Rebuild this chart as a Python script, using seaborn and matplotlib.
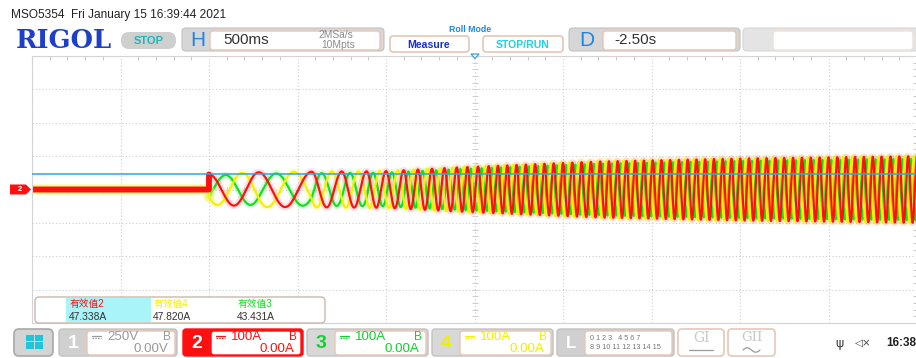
import numpy as np
import pandas as pd
import matplotlib
matplotlib.use("Agg")
import matplotlib.pyplot as plt
from matplotlib.patches import FancyBboxPatch, Rectangle, Polygon
import seaborn as sns

# ---------------- acquisition data ----------------
# horizontal 500 ms/div over 10 div, vertical 100 A/div over 8 div
time_span = [0.0, 5.0]
current_span = [-400.0, 400.0]
trigger_level = 46.0          # A
trigger_time = 2.5            # s (screen centre)

# CH2 positive-peak times (s) and the cycle number of each peak
peak_times = [1.00, 1.28, 1.58, 1.75, 1.89, 2.00, 2.10, 2.18, 2.26, 2.33,
              2.40, 2.46, 2.52, 2.58, 3.21, 4.10, 5.00]
peak_cycles = [0, 1, 2, 3, 4, 5, 6, 7, 8, 9, 10, 11, 12, 13, 25, 43, 61]

# current envelope (peak A) during the start-up
env_times = [1.00, 1.30, 2.00, 2.40, 3.20, 4.00, 5.00]
env_peaks = [45, 52, 55, 66, 84, 93, 100]

# the three phase currents
channels = ["CH3", "CH4", "CH2"]            # drawing order, CH2 on top
phase_shift = {"CH2": 0.0, "CH4": 1 / 3, "CH3": -1 / 3}   # cycles
rms_labels = ["有效值2", "有效值4", "有效值3"]
rms_values = [47.338, 47.820, 43.431]
rms_channels = ["CH2", "CH4", "CH3"]
colors = {"CH2": "#ff1010", "CH3": "#10e020", "CH4": "#f4f000"}

# ---------------- build traces ----------------
t = np.linspace(time_span[0], time_span[1], 25001)
cyc = np.interp(t, peak_times, peak_cycles)
env = np.interp(t, env_times, env_peaks)
running = t >= peak_times[0]
rms_of = dict(zip(rms_channels, rms_values))
frames = []
for ch in channels:
    gain = rms_of[ch] / rms_of["CH2"]
    y = np.where(running, gain * env * np.cos(2 * np.pi * (cyc + phase_shift[ch])), 0.0)
    frames.append(pd.DataFrame({"time": t, "current": y, "channel": ch}))
df = pd.concat(frames, ignore_index=True)
idle = df[df["time"] <= peak_times[0]]

# ---------------- figure ----------------
sns.set_theme(style="white")
plt.rcParams["font.family"] = ["Liberation Sans", "Noto Sans CJK SC", "DejaVu Sans"]
W, H = 916, 358
fig = plt.figure(figsize=(W / 100, H / 100), dpi=100)
fig.patch.set_facecolor("white")

ax = fig.add_axes([32 / W, 35 / H, 885 / W, 267 / H])
ax.set_xlim(*time_span)
ax.set_ylim(*current_span)
ax.set_xticks(np.arange(0, 5.01, 0.5))
ax.set_yticks(np.arange(-400, 401, 100))
ax.set_xticks(np.arange(0, 5.01, 0.1), minor=True)
ax.set_yticks(np.arange(-400, 401, 20), minor=True)
ax.tick_params(which="both", direction="in", top=True, right=True,
               labelbottom=False, labelleft=False, color="#c8c8c8")
ax.tick_params(which="major", length=0)
ax.tick_params(which="minor", length=3, width=0.7)
ax.grid(which="major", ls=(0, (1, 2)), color="#cdcdcd", lw=0.8)
for s in ax.spines.values():
    s.set_color("#d4d4d4")
    s.set_linewidth(0.8)
# graticule ticks along the centre cross
ax.plot(np.arange(0, 5.01, 0.1), np.zeros(51), ls="", marker="|", ms=4,
        color="#cfcfcf", mew=0.7)
ax.plot(np.full(41, trigger_time), np.arange(-400, 401, 20), ls="", marker="_",
        ms=4, color="#cfcfcf", mew=0.7)

# persistence haze, then the crisp traces
sns.lineplot(data=df, x="time", y="current", hue="channel", hue_order=channels,
             palette=colors, estimator=None, sort=False, lw=5, alpha=0.13,
             legend=False, ax=ax)
sns.lineplot(data=df, x="time", y="current", hue="channel", hue_order=channels,
             palette=colors, estimator=None, sort=False, lw=1.6,
             legend=False, ax=ax)
# noisy idle band before the motor starts
sns.lineplot(data=idle[idle["channel"] == "CH4"], x="time", y="current",
             color="#f6f23a", lw=7.5, alpha=0.5, estimator=None, legend=False, ax=ax)
sns.lineplot(data=idle[idle["channel"] == "CH2"], x="time", y="current",
             color="#ff1010", lw=4.2, estimator=None, legend=False, ax=ax)
ax.axhline(trigger_level, color="#2aa8e0", lw=1.1, zorder=5)
ax.set_xlabel("")
ax.set_ylabel("")

# ---------------- instrument chrome (pixel coordinates) ----------------
ov = fig.add_axes([0, 0, 1, 1], zorder=10)
ov.set_xlim(0, W)
ov.set_ylim(H, 0)
ov.axis("off")
ov.patch.set_alpha(0)


def rbox(x0, y0, x1, y1, fc, ec="none", lw=1.0, r=3, z=1):
    ov.add_patch(FancyBboxPatch((x0, y0), x1 - x0, y1 - y0,
                                boxstyle=f"round,pad=0,rounding_size={r}",
                                fc=fc, ec=ec, lw=lw, zorder=z))


def txt(x, y, s, size, color, weight="normal", ha="left", va="center", z=5, **kw):
    ov.text(x, y, s, fontsize=size, color=color, fontweight=weight,
            ha=ha, va=va, zorder=z, **kw)


def dc_mark(x, y, color):
    ov.plot([x, x + 9], [y - 1.5, y - 1.5], color=color, lw=0.9, zorder=6)
    ov.plot([x, x + 9], [y + 1, y + 1], color=color, lw=0.9, ls=(0, (1.2, 1)), zorder=6)


GRAY = "#d6d6d6"
GRAY_EC = "#c2c2c2"
PINK_EC = "#e8c6b4"

# header
txt(11, 15, "MSO5354  Fri January 15 16:39:44 2021", 8.6, "#222222")
txt(16, 40.5, "RIGOL", 18.5, "#1d3fc9", weight="bold", family="DejaVu Serif")
rbox(121, 32, 176, 49, "#cfcfcf", r=8)
txt(148.5, 41, "STOP", 8, "#22b4b8", weight="bold", ha="center")

rbox(182, 28, 384, 51, GRAY, GRAY_EC, 0.8, r=4)
txt(190, 40, "H", 15, "#1e86e6")
rbox(210, 31, 380, 50, "white", PINK_EC, 1.0, r=3)
txt(223, 40.5, "500ms", 11, "#333333")
txt(336, 35.5, "2MSa/s", 7.4, "#8c8c8c", ha="center")
txt(338, 44.5, "10Mpts", 7.4, "#8c8c8c", ha="center")

txt(470, 30, "Roll Mode", 6.3, "#1e86e6", weight="bold", ha="center")
rbox(390, 36, 469, 52, "white", PINK_EC, 1.2, r=3)
txt(429, 44.5, "Measure", 7.6, "#1531c8", weight="bold", ha="center")
rbox(483, 36, 563, 52, "white", PINK_EC, 1.2, r=3)
txt(523, 44.5, "STOP/RUN", 7.6, "#1ed2e2", weight="bold", ha="center")

rbox(569, 28, 740, 51, GRAY, GRAY_EC, 0.8, r=4)
txt(579, 40, "D", 15, "#1e86e6")
rbox(603, 31, 736, 50, "white", PINK_EC, 1.0, r=3)
txt(614, 40.5, "-2.50s", 11, "#333333")
rbox(743, 28, 930, 51, "#e4e4e4", "#d6d6d6", 0.8, r=4)
rbox(773, 31, 913, 50, "white", "#f0e0d8", 1.0, r=3)

# trigger position marker and channel 2 offset marker
ov.add_patch(Polygon([[471, 54], [479, 54], [475, 58.5]], closed=True,
                     fc="white", ec="#3aa0e0", lw=0.9, zorder=6))
ov.add_patch(Polygon([[10, 184.5], [26, 184.5], [31, 189.5], [26, 194.5], [10, 194.5]],
                     closed=True, fc="#ff1010", ec="none", zorder=6))
txt(19.5, 189.8, "2", 5.5, "white", weight="bold", ha="center", z=7)

# measurement panel
rbox(35, 297, 325, 323, "white", "#cbb8ae", 1.0, r=4, z=3)
ov.add_patch(Rectangle((66, 297.6), 85, 24.8, fc="#a8f4f8", ec="none", zorder=4))
meas_x = [70, 154, 238]
for x, lab, val, ch in zip(meas_x, rms_labels, rms_values, rms_channels):
    txt(x, 304.5, lab, 7, colors[ch])
    txt(x - 1, 316.5, f"{val:.3f}A", 7.4, "#333333")

# bottom channel bar
rbox(14, 329, 53, 356, "#d4d4d4", "#a8a8a8", 1.2, r=5)
for dx in (0, 9):
    for dy in (0, 7.5):
        ov.add_patch(Rectangle((26 + dx, 334.5 + dy), 7.5, 6.5, fc="#20c4dc",
                               ec="none", zorder=5))


def channel_box(x0, x1, num, tab_fc, num_color, text_color, scale, ofs, border):
    rbox(x0, 329, x1, 356, tab_fc, border, 1.0, r=3)
    rbox(x0 + 28, 331, x1 - 2, 355, "white", border if border != GRAY_EC else PINK_EC,
         1.0, r=3)
    txt(x0 + 14, 343, num, 14, num_color, weight="bold", ha="center")
    dc_mark(x0 + 33, 337, text_color)
    txt(x0 + 48, 337.5, scale, 9.6, text_color)
    txt(x1 - 10, 337.5, "B", 8.5, text_color, ha="center")
    txt(x1 - 9, 349.5, ofs, 9.6, text_color, ha="right")


channel_box(59, 177, "1", "#d0d0d0", "white", "#9a9a9a", "250V", "0.00V", GRAY_EC)
channel_box(183, 303, "2", "#ff1010", "white", "#ff1010", "100A", "0.00A", "#ff1010")
channel_box(307, 428, "3", "#d8d8d8", "#10d030", "#10d030", "100A", "0.00A", GRAY_EC)
channel_box(432, 553, "4", "#d8d8d8", "#f2ee00", "#f2ee00", "100A", "0.00A", GRAY_EC)

rbox(557, 329, 674, 356, "#d0d0d0", GRAY_EC, 1.0, r=3)
rbox(585, 331, 672, 355, "white", PINK_EC, 1.0, r=3)
txt(571, 343, "L", 12, "white", weight="bold", ha="center")
txt(590, 338, "0 1 2 3   4 5 6 7", 5.2, "#777777")
txt(590, 347.5, "8 9 10 11 12 13 14 15", 5.2, "#777777")

rbox(678, 329, 724, 356, "white", PINK_EC, 1.2, r=4)
txt(701, 338, "GI", 10, "#c8c8c8", ha="center", family="DejaVu Serif")
ov.plot([689, 713], [350, 350], color="#9a9a9a", lw=0.9, zorder=6)
rbox(728, 329, 775, 356, "white", PINK_EC, 1.2, r=4)
txt(751.5, 337.5, "GII", 9.5, "#c8c8c8", ha="center", family="DejaVu Serif")
# small sine glyph under GII
gx = np.linspace(743, 760, 40)
ov.plot(gx, 350 - 2.2 * np.sin((gx - 743) / 17 * 2 * np.pi), color="#9a9a9a",
        lw=0.9, zorder=6)

txt(839, 343, "ψ", 9, "#444444", ha="center", family="DejaVu Sans")
txt(863, 343, "◁×", 7.5, "#444444", ha="center", family="DejaVu Sans")
txt(916, 343, "16:38", 8.5, "#222222", weight="bold", ha="right")

fig.savefig("out.png", dpi=100, facecolor="white")
